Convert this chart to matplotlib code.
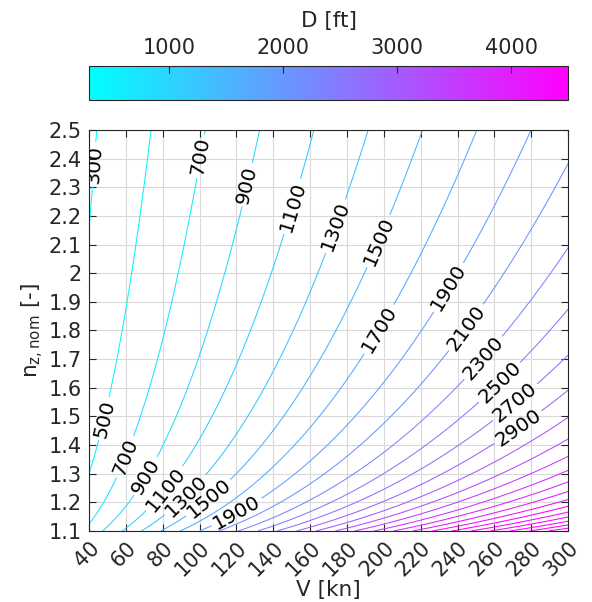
import numpy as np
import matplotlib
matplotlib.use("Agg")
import matplotlib.pyplot as plt
from matplotlib.colors import Normalize

# ---- data ----
V_range = [40, 300]          # kn
nz_range = [1.1, 2.5]        # -
# D = coef * V * (nz - 1) ** (-expo), fitted to contour positions
coef = 7.92
expo = 0.38
levels = list(range(300, 5800, 200))
clim = [300, 4500]
xticks = list(range(40, 301, 20))
yticks = [1.1, 1.2, 1.3, 1.4, 1.5, 1.6, 1.7, 1.8, 1.9, 2.0, 2.1, 2.2, 2.3, 2.4, 2.5]
ytick_labels = ["1.1", "1.2", "1.3", "1.4", "1.5", "1.6", "1.7", "1.8", "1.9", "2",
                "2.1", "2.2", "2.3", "2.4", "2.5"]
cbar_ticks = [1000, 2000, 3000, 4000]
label_pos = [(46.5, 2.378), (101, 2.407), (126.5, 2.308), (151, 2.232), (174.5, 2.162),
             (198, 2.11), (236, 1.947), (198.5, 1.80), (245.8, 1.805), (254, 1.704),
             (263, 1.617), (271, 1.55), (273, 1.46), (49.8, 1.49), (61, 1.355),
             (71.3, 1.29), (82, 1.243), (93, 1.22), (105.7, 1.208), (120, 1.167)]

V = np.linspace(V_range[0], V_range[1], 261)
nz = np.linspace(nz_range[0], nz_range[1], 281)
VV, NN = np.meshgrid(V, nz)
D = coef * VV * (NN - 1.0) ** (-expo)

plt.rcParams['font.family'] = ['DejaVu Sans']
fig = plt.figure(figsize=(5.92, 6.02), dpi=100)
ax = fig.add_axes([0.1503, 0.118, 0.8095, 0.666])
norm = Normalize(vmin=clim[0], vmax=clim[1])
cs = ax.contour(VV, NN, D, levels=levels, cmap='cool', norm=norm, linewidths=0.75)
ax.clabel(cs, levels=[l for l in levels if l <= 2900], manual=label_pos, inline=True,
          fmt='%d', fontsize=14.5, colors='k', inline_spacing=3)

ax.set_xlim(V_range)
ax.set_ylim(nz_range)
ax.set_xticks(xticks)
ax.set_yticks(yticks)
ax.set_yticklabels(ytick_labels)
ax.tick_params(direction='in', labelsize=15, length=5, width=0.8, top=True, right=True,
               colors='#262626', labelcolor='#262626', pad=5)
plt.setp(ax.get_xticklabels(), rotation=45, ha='right', rotation_mode='anchor')
ax.grid(True, color='#d9d9d9', linewidth=0.8)
ax.set_axisbelow(True)
for s in ax.spines.values():
    s.set_color('#262626')
    s.set_linewidth(0.8)
ax.set_xlabel('V [kn]', fontsize=15.5, color='#262626', labelpad=0)
ax.set_ylabel(r'n$_{\mathrm{z,nom}}$ [-]', fontsize=15.5, color='#262626', labelpad=2)

cax = fig.add_axes([0.1503, 0.834, 0.8095, 0.056])
sm = matplotlib.cm.ScalarMappable(norm=norm, cmap='cool')
cb = fig.colorbar(sm, cax=cax, orientation='horizontal', ticks=cbar_ticks)
cax.xaxis.set_ticks_position('top')
cax.xaxis.set_label_position('top')
cax.tick_params(direction='in', labelsize=15, length=5, width=0.8, colors='#262626', pad=6)
cb.outline.set_edgecolor('#262626')
cb.outline.set_linewidth(0.8)
cb.set_label('D [ft]', fontsize=15.5, color='#262626', labelpad=8)

fig.savefig('out.png', dpi=100)
